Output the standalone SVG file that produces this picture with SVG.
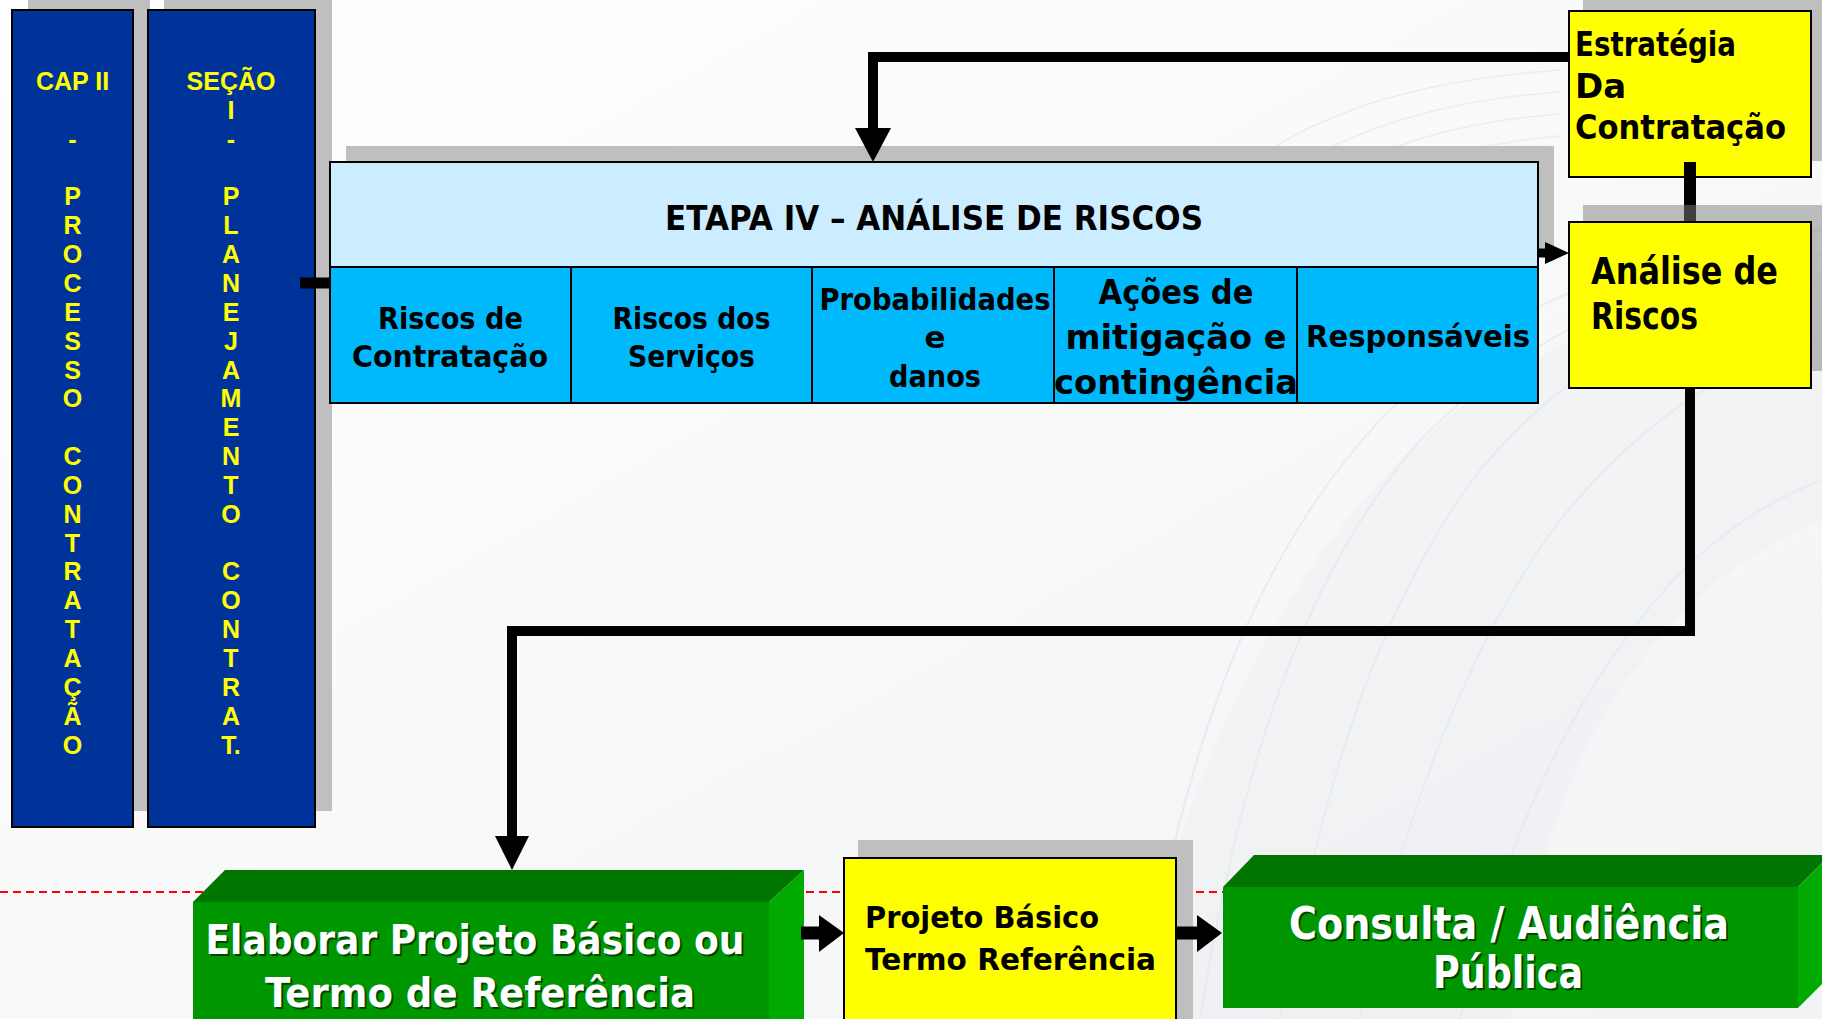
<svg xmlns="http://www.w3.org/2000/svg" width="1822" height="1019" viewBox="0 0 1822 1019">
<defs>
<style>
.nv{fill:#003399;stroke:#000;stroke-width:2}
.sh{fill:#BFBFBF}
.vt{font-family:"Liberation Sans",Arial,sans-serif;font-weight:bold;font-size:25px;fill:#FFFF00;text-anchor:middle}
.cg{font-family:"DejaVu Sans","Liberation Sans",sans-serif;font-weight:bold;fill:#000}
.wt{font-family:"DejaVu Sans","Liberation Sans",sans-serif;font-weight:bold;fill:#fff;text-anchor:middle}
.wts{font-family:"DejaVu Sans","Liberation Sans",sans-serif;font-weight:bold;fill:#000;fill-opacity:0.55;text-anchor:middle}
.mid{text-anchor:middle}
.ln{fill:none;stroke:#000;stroke-linejoin:miter;stroke-linecap:butt}
.yb{fill:#FFFF00;stroke:#000;stroke-width:2}
.gt{fill:#007500}
.gf{fill:#009600}
.gr{fill:#00AA00}
</style>
<linearGradient id="bg" x1="0" y1="0" x2="1" y2="1">
<stop offset="0" stop-color="#FFFFFF"/>
<stop offset="1" stop-color="#F2F3F5"/>
</linearGradient>
</defs>
<rect width="1822" height="1019" fill="url(#bg)"/>
<g id="background-swoosh" fill="none" stroke="#DADDE2" stroke-opacity="0.45">
<path d="M1140,1019 C1180,760 1250,560 1380,420 C1500,300 1650,250 1822,230" stroke-width="2"/>
<path d="M1200,1019 C1240,770 1300,580 1420,440 C1540,320 1680,270 1822,255" stroke-width="2"/>
<path d="M1280,1019 C1320,790 1380,600 1480,470 C1590,340 1710,300 1822,285" stroke-width="2"/>
<path d="M1360,1019 C1400,820 1470,640 1560,520 C1650,410 1740,360 1822,340" stroke-width="2"/>
<path d="M1460,1019 C1500,860 1560,720 1640,620 C1700,540 1770,500 1822,480" stroke-width="2"/>
<path d="M1240,170 C1320,110 1420,80 1560,70" stroke-width="1.5"/>
<path d="M1260,190 C1340,130 1440,100 1560,92" stroke-width="1.5"/>
<path d="M1280,210 C1360,150 1450,122 1560,114" stroke-width="1.5"/>
<path d="M1300,230 C1380,170 1460,145 1560,136" stroke-width="1.5"/>
</g>
<path d="M1130,1019 C1180,800 1260,600 1400,460 C1520,340 1680,290 1822,270 L1822,520 C1720,560 1640,640 1580,760 C1540,850 1520,940 1510,1019 Z" fill="#E9EBEE" fill-opacity="0.35"/>
<line x1="0" y1="892" x2="1822" y2="892" stroke="#FF0000" stroke-width="2" stroke-dasharray="8 5"/>

<g id="cap-ii">
<rect class="sh" x="28" y="0" width="122" height="811"/>
<rect class="nv" x="12" y="10" width="121" height="817"/>
<text class="vt" x="72.5" y="90"><tspan x="72.5">CAP II</tspan><tspan x="72.5" dy="57.7">-</tspan><tspan x="72.5" dy="57.7">P</tspan><tspan x="72.5" dy="28.85">R</tspan><tspan x="72.5" dy="28.85">O</tspan><tspan x="72.5" dy="28.85">C</tspan><tspan x="72.5" dy="28.85">E</tspan><tspan x="72.5" dy="28.85">S</tspan><tspan x="72.5" dy="28.85">S</tspan><tspan x="72.5" dy="28.85">O</tspan><tspan x="72.5" dy="57.7">C</tspan><tspan x="72.5" dy="28.85">O</tspan><tspan x="72.5" dy="28.85">N</tspan><tspan x="72.5" dy="28.85">T</tspan><tspan x="72.5" dy="28.85">R</tspan><tspan x="72.5" dy="28.85">A</tspan><tspan x="72.5" dy="28.85">T</tspan><tspan x="72.5" dy="28.85">A</tspan><tspan x="72.5" dy="28.85">Ç</tspan><tspan x="72.5" dy="28.85">Ã</tspan><tspan x="72.5" dy="28.85">O</tspan></text>
</g>

<g id="secao-i">
<rect class="sh" x="164" y="0" width="168" height="811"/>
<rect class="nv" x="148" y="10" width="167" height="817"/>
<text class="vt" x="231" y="90"><tspan x="231">SEÇÃO</tspan><tspan x="231" dy="28.85">I</tspan><tspan x="231" dy="28.85">-</tspan><tspan x="231" dy="57.7">P</tspan><tspan x="231" dy="28.85">L</tspan><tspan x="231" dy="28.85">A</tspan><tspan x="231" dy="28.85">N</tspan><tspan x="231" dy="28.85">E</tspan><tspan x="231" dy="28.85">J</tspan><tspan x="231" dy="28.85">A</tspan><tspan x="231" dy="28.85">M</tspan><tspan x="231" dy="28.85">E</tspan><tspan x="231" dy="28.85">N</tspan><tspan x="231" dy="28.85">T</tspan><tspan x="231" dy="28.85">O</tspan><tspan x="231" dy="57.7">C</tspan><tspan x="231" dy="28.85">O</tspan><tspan x="231" dy="28.85">N</tspan><tspan x="231" dy="28.85">T</tspan><tspan x="231" dy="28.85">R</tspan><tspan x="231" dy="28.85">A</tspan><tspan x="231" dy="28.85">T.</tspan></text>
</g>

<g id="etapa-iv">
<rect class="sh" x="346" y="146" width="1208" height="105"/>
<rect x="330" y="162" width="1208" height="105" fill="#CCECFF" stroke="#000" stroke-width="2"/>
<rect x="330" y="267" width="1208" height="136" fill="#00B8FC" stroke="#000" stroke-width="2"/>
<g stroke="#000" stroke-width="2">
<line x1="571" y1="267" x2="571" y2="403"/>
<line x1="812" y1="267" x2="812" y2="403"/>
<line x1="1054" y1="267" x2="1054" y2="403"/>
<line x1="1297" y1="267" x2="1297" y2="403"/>
</g>
<text class="cg mid" x="934" y="230" font-size="33" textLength="538" lengthAdjust="spacingAndGlyphs">ETAPA IV – ANÁLISE DE RISCOS</text>
<text class="cg mid" x="450.5" y="329" font-size="31" textLength="145" lengthAdjust="spacingAndGlyphs">Riscos de</text>
<text class="cg mid" x="450" y="367" font-size="31" textLength="196" lengthAdjust="spacingAndGlyphs">Contratação</text>
<text class="cg mid" x="691.5" y="329" font-size="31" textLength="158" lengthAdjust="spacingAndGlyphs">Riscos dos</text>
<text class="cg mid" x="691.5" y="367" font-size="31" textLength="127" lengthAdjust="spacingAndGlyphs">Serviços</text>
<text class="cg mid" x="935" y="310" font-size="31" textLength="231" lengthAdjust="spacingAndGlyphs">Probabilidades</text>
<text class="cg mid" x="935" y="348" font-size="31">e</text>
<text class="cg mid" x="935" y="387" font-size="31" textLength="92" lengthAdjust="spacingAndGlyphs">danos</text>
<text class="cg mid" x="1176" y="304" font-size="34" textLength="155" lengthAdjust="spacingAndGlyphs">Ações de</text>
<text class="cg mid" x="1176" y="349" font-size="34" textLength="221" lengthAdjust="spacingAndGlyphs">mitigação e</text>
<text class="cg mid" x="1176" y="394" font-size="34" textLength="244" lengthAdjust="spacingAndGlyphs">contingência</text>
<text class="cg mid" x="1418" y="347" font-size="31" textLength="224" lengthAdjust="spacingAndGlyphs">Responsáveis</text>
</g>

<g id="estrategia">
<rect class="sh" x="1583" y="-6" width="245" height="167"/>
<rect class="yb" x="1569" y="11" width="242" height="166"/>
<text class="cg" x="1575" y="56" font-size="34" textLength="161" lengthAdjust="spacingAndGlyphs">Estratégia</text>
<text class="cg" x="1575" y="98" font-size="34">Da</text>
<text class="cg" x="1575" y="139" font-size="34" textLength="211" lengthAdjust="spacingAndGlyphs">Contratação</text>
</g>

<g id="projeto-basico">
<rect class="sh" x="858" y="840" width="335" height="190"/>
<rect class="yb" x="844" y="858" width="332" height="170"/>
<text class="cg" x="865" y="928" font-size="31" textLength="234" lengthAdjust="spacingAndGlyphs">Projeto Básico</text>
<text class="cg" x="865" y="970" font-size="31" textLength="291" lengthAdjust="spacingAndGlyphs">Termo Referência</text>
</g>

<g id="elaborar">
<polygon class="gt" points="193,902 225,870 804,870 769,902"/>
<polygon class="gr" points="769,902 804,870 804,1019 769,1019"/>
<rect class="gf" x="193" y="902" width="576" height="117"/>
<text class="wts" x="477" y="956" font-size="41" textLength="539" lengthAdjust="spacingAndGlyphs">Elaborar Projeto Básico ou</text>
<text class="wt" x="475" y="954" font-size="41" textLength="539" lengthAdjust="spacingAndGlyphs">Elaborar Projeto Básico ou</text>
<text class="wts" x="482" y="1009" font-size="41" textLength="430" lengthAdjust="spacingAndGlyphs">Termo de Referência</text>
<text class="wt" x="480" y="1007" font-size="41" textLength="430" lengthAdjust="spacingAndGlyphs">Termo de Referência</text>
</g>

<g id="consulta">
<polygon class="gt" points="1223,887 1254,855 1830,855 1798,887"/>
<polygon class="gr" points="1798,887 1830,855 1830,976 1798,1008"/>
<rect class="gf" x="1223" y="887" width="575" height="121"/>
<text class="wts" x="1511" y="941" font-size="44" textLength="440" lengthAdjust="spacingAndGlyphs">Consulta / Audiência</text>
<text class="wt" x="1509" y="939" font-size="44" textLength="440" lengthAdjust="spacingAndGlyphs">Consulta / Audiência</text>
<text class="wts" x="1510" y="990" font-size="44" textLength="150" lengthAdjust="spacingAndGlyphs">Pública</text>
<text class="wt" x="1508" y="988" font-size="44" textLength="150" lengthAdjust="spacingAndGlyphs">Pública</text>
</g>

<g id="connectors">
<polyline class="ln" stroke-width="10" points="1569,57 873,57 873,132"/>
<polygon points="855,128 891,128 873,162"/>
<line class="ln" stroke-width="11" x1="300" y1="283" x2="330" y2="283"/>
<line class="ln" stroke-width="9" x1="1538" y1="253" x2="1548" y2="253"/>
<polygon points="1545,242 1569,253 1545,264"/>
<line class="ln" stroke-width="12" x1="1690" y1="162" x2="1690" y2="222"/>
<polyline class="ln" stroke-width="10" points="1690,388 1690,631 512,631 512,840"/>
<polygon points="495,836 529,836 512,870"/>
<line class="ln" stroke-width="13" x1="801" y1="933" x2="822" y2="933"/>
<polygon points="819,915 844,933 819,952"/>
<line class="ln" stroke-width="13" x1="1176" y1="933" x2="1200" y2="933"/>
<polygon points="1197,915 1222,933 1197,952"/>
</g>

<g id="analise-riscos">
<rect x="1583" y="205" width="245" height="166" fill="#7F7F7F" fill-opacity="0.5"/>
<rect class="yb" x="1569" y="222" width="242" height="166"/>
<text class="cg" x="1591" y="284" font-size="37" textLength="187" lengthAdjust="spacingAndGlyphs">Análise de</text>
<text class="cg" x="1591" y="329" font-size="37" textLength="107" lengthAdjust="spacingAndGlyphs">Riscos</text>
</g>
</svg>
